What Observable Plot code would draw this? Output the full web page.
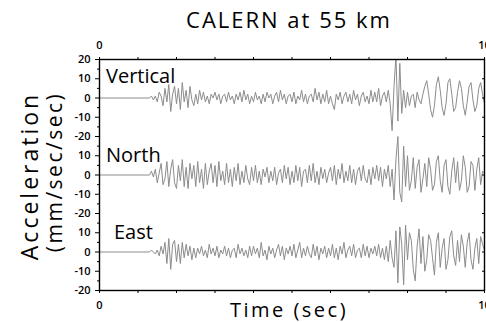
<!DOCTYPE html>
<html><head><meta charset="utf-8">
<script src="https://cdn.jsdelivr.net/npm/d3@7"></script>
<script src="https://cdn.jsdelivr.net/npm/@observablehq/plot@0.6"></script>
<style>
body{margin:0;background:#fff;}
#wrap{width:486px;height:322px;overflow:hidden;}
</style></head><body>
<div id="wrap"></div>
<script>
const componentNames = ["Vertical", "North", "East"];
const panelCenters = [40, 0, -40];
const startTime = 1.3;
const sampleInterval = 0.05;

const vertical = [0, 1, -1, 1,
 -2, 3, 1, -4, 5, -2, 7, -7, 2, 6,
 -3, 5, -6, 8, -2, 4, -5, 6, -1, -4,
 2, -3, 4, -1, 3, -2, 1, -3, 2, 0,
 3, -1, 2, -3, 1, 2, -2, 3, -1, 1,
 -3, 2, -1, 3, -2, 4, -1, 2, -3, 1,
 -2, 3, -1, 1, -3, 2, -2, 3, 0, 2,
 -3, 1, 3, -2, 4, -1, 2, -3, 1, 2,
 -2, 3, -3, 1, -1, 4, -2, 2, -3, 1,
 2, -2, 5, -1, 3, -3, 2, -2, 4, -3,
 1, -3, -6, 2, -1, 3, -3, 1, 3, -2,
 2, -3, 4, -1, 2, -4, 1, 3, -2, 1,
 -3, 4, -2, 3, -2, 5, -4, 1, 3, -2,
 4, -3, -17, 6, 22, -12, 18, -8, 4, -5,
 3, -4, 1, 2, -5, 3, -1, -3, 2, 6,
 9, 2, -6, -10, -4, 7, 11, 4, -5, -9,
 -3, 8, 10, 2, -7, -5, 3, 9, 5, -4,
 -9, -2, 6, 8, -1, -7, -4, 5, 8, 2, -3];

const north = [0, 2, -1, 3,
 -4, 1, 6, -5, -2, 7, -6, 3, 8, -4,
 -7, 5, -3, 8, -6, 4, -7, 6, -2, 5,
 -6, 7, -4, 3, -7, 6, -5, 2, 6, -4,
 5, -6, 7, -3, 2, -5, 6, -4, 3, -6,
 4, -3, 6, -5, 2, -4, 5, -2, -5, 4,
 -3, 5, -4, 2, -5, 3, -1, 4, -4, 2,
 -3, 4, -5, 1, 3, -4, 5, -2, 4, -5,
 2, -4, 5, -3, 4, -6, 2, 3, -4, 5,
 -3, 6, -4, 2, -5, 4, -2, 3, -4, 1,
 4, -3, 5, -5, 3, -2, 6, -4, 2, -3,
 5, -4, 3, -5, 2, 4, -3, 5, -2, -4,
 3, -5, 4, -2, 5, -3, 4, -6, 3, -2,
 5, -6, 3, -13, 8, 20, -9, -14, 15, -6,
 10, -8, -3, 9, -7, 4, 8, -9, -2, 6,
 -6, 9, 3, -8, -5, 7, 10, -3, -9, 5,
 8, -6, -10, 2, 9, -4, 7, -8, -3, 10,
 4, -9, -6, 7, 5, -8, 3, 9, -5, 2, 1];

const east = [0, 1, 0, -1,
 1, -2, 3, -1, 5, -6, 7, -9, 4, 6,
 -5, 4, -6, 5, -3, 4, -2, 3, -4, 2,
 -3, 2, -1, 3, -2, 1, -3, 4, -1, 2,
 -2, 3, -3, 1, -1, 3, -2, 2, -3, 1,
 2, -3, 4, -1, 2, -2, 1, -3, 3, -2,
 3, -1, 2, -3, 5, -2, 1, -4, 3, -1,
 2, -3, 1, 4, -2, 3, -4, 2, -1, 3,
 -2, 4, -3, 1, 5, -3, 2, -2, 3, -1,
 -3, 4, -2, 3, -4, 2, -1, 3, -3, 2,
 -2, 4, -3, 2, -4, 3, -1, 5, -3, 1,
 3, -2, 4, -3, 1, 2, -3, 4, -2, 3,
 -3, 2, -1, 3, -2, 4, -3, 2, -4, 3,
 -5, 6, -3, -8, 11, -16, 13, 4, -17, 14,
 -4, 10, 6, -9, -15, 3, 12, -6, 8, -10,
 -4, 9, 6, -3, -12, 5, 10, -8, 2, 7,
 -9, -4, 8, 11, -2, -7, 6, -5, 9, 3,
 -8, 5, 10, -4, -9, 2, 7, -6, 8, 4, 1];

const traces = [vertical, north, east];

const xTicks = [0, 1, 2, 3, 4, 5, 6, 7, 8, 9, 10];
const xTickLabels = ["0", "", "", "", "", "", "", "", "", "", "10"];
const yTickValues = [60, 50, 40, 30, 20, 10, 0, -10, -20, -30, -40, -50, -60];
const yTickLabels = ["20", "10", "0", "-10", "-20", "10", "0", "-10", "-20", "10", "0", "-10", "-20"];
const yMinorTicks = [55, 45, 35, 25, 15, 5, -5, -15, -25, -35, -45, -55];

const rows = [];
traces.forEach((vals, k) => {
  rows.push({comp: componentNames[k], t: 0, a: 0, off: panelCenters[k]});
  vals.forEach((v, i) => rows.push({comp: componentNames[k], t: startTime + i * sampleInterval, a: v, off: panelCenters[k]}));
});

const chart = Plot.plot({
  width: 486, height: 322,
  marginLeft: 99, marginRight: 2, marginTop: 59, marginBottom: 32,
  x: {domain: [0, 10]},
  y: {domain: [-60, 60]},
  style: {fontFamily: "'Open Sans', sans-serif", fontSize: "11px", fontWeight: "600", color: "#000", background: "#fff"},
  marks: [
    Plot.line(rows, {x: "t", y: d => d.a + d.off, z: "comp", stroke: "#8c8c8c", strokeWidth: 1, clip: true}),
    Plot.frame({stroke: "#000", strokeWidth: 1.4}),
    Plot.axisY({ticks: yTickValues, tickSize: 4, tickPadding: 5, tickFormat: d => yTickLabels[yTickValues.indexOf(d)], label: null}),
    Plot.axisY({ticks: yMinorTicks, tickSize: 2, tickFormat: () => "", label: null}),
    Plot.axisY({anchor: "right", ticks: yTickValues, tickSize: -3, tickFormat: () => "", label: null}),
    Plot.axisX({anchor: "top", ticks: xTicks, tickSize: 3, tickPadding: 8, tickFormat: d => xTickLabels[xTicks.indexOf(d)], label: null}),
    Plot.axisX({anchor: "bottom", ticks: xTicks, tickSize: 3, tickPadding: 8, tickFormat: d => xTickLabels[xTicks.indexOf(d)], label: null})
  ]
});

document.getElementById("wrap").appendChild(chart);
const svg = d3.select(chart);
const ff = "'Open Sans', sans-serif";
svg.append("text").attr("x", 289).attr("y", 28).attr("text-anchor", "middle")
  .attr("font-family", ff).attr("font-size", 22).attr("letter-spacing", 2).attr("font-weight", 400).text("CALERN at 55 km");
svg.append("text").attr("x", 289).attr("y", 317).attr("text-anchor", "middle")
  .attr("font-family", ff).attr("font-size", 20).attr("letter-spacing", 2.5).attr("font-weight", 400).text("Time (sec)");
svg.append("text").attr("transform", "translate(38,176) rotate(-90)").attr("text-anchor", "middle")
  .attr("font-family", ff).attr("font-size", 23).attr("letter-spacing", 3).attr("font-weight", 400).text("Acceleration");
svg.append("text").attr("transform", "translate(62,172) rotate(-90)").attr("text-anchor", "middle")
  .attr("font-family", ff).attr("font-size", 21).attr("letter-spacing", 2.5).attr("font-weight", 400).text("(mm/sec/sec)");
const labelPos = [[106, 83], [106, 162], [114, 239]];
componentNames.forEach((name, k) => {
  svg.append("text").attr("x", labelPos[k][0]).attr("y", labelPos[k][1]).attr("text-anchor", "start")
    .attr("font-family", ff).attr("font-size", 20).attr("font-weight", 400).text(name);
});
</script>
</body></html>
